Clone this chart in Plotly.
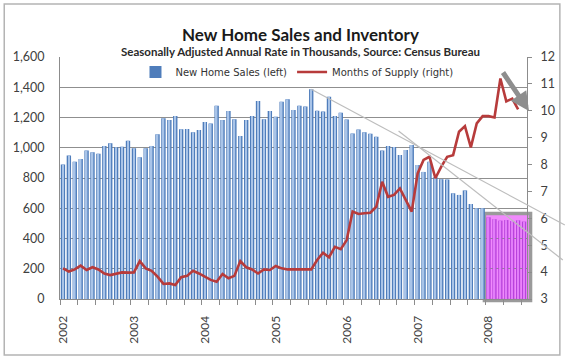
import plotly.graph_objects as go

# ---------------- data ----------------
years = ["2002", "2003", "2004", "2005", "2006", "2007", "2008"]

# New Home Sales, SAAR thousands, Jan 2002 .. Dec 2007
sales = [890, 948, 908, 926, 981, 970, 961, 1012, 1029, 1003, 1007, 1047,
         996, 937, 996, 1012, 1089, 1195, 1183, 1210, 1122, 1124, 1102, 1117,
         1170, 1161, 1278, 1183, 1243, 1188, 1078, 1183, 1210, 1309, 1188, 1243,
         1205, 1304, 1320, 1250, 1278, 1272, 1387, 1245, 1239, 1338, 1210, 1232,
         1186, 1095, 1120, 1102, 1093, 1073, 981, 1012, 1005, 952, 985, 1018,
         886, 840, 908, 805, 792, 790, 699, 688, 718, 628, 600, 600]
# 2008 months (highlighted)
sales_2008 = [540, 528, 518, 522, 515, 520, 512]

# Months of supply (right axis)
supply = [4.14, 4.02, 4.10, 4.24, 4.08, 4.18, 4.10, 3.95, 3.89, 3.95, 3.99, 3.98,
          3.99, 4.41, 4.14, 4.05, 3.83, 3.56, 3.58, 3.52, 3.81, 3.86, 4.05, 3.95,
          3.83, 3.71, 3.64, 3.93, 3.77, 3.86, 4.41, 4.18, 4.10, 3.95, 4.10, 4.08,
          4.23, 4.14, 4.10, 4.10, 4.12, 4.10, 4.10, 4.45, 4.72, 4.55, 4.94, 4.85,
          5.19, 6.25, 6.16, 6.19, 6.21, 6.43, 7.36, 6.80, 6.87, 7.11, 6.68, 6.25,
          7.67, 8.17, 8.29, 7.49, 7.92, 8.29, 8.35, 9.22, 9.43, 8.64, 9.53, 9.80,
          9.80, 9.75, 11.20, 10.35, 10.45, 10.05, None]

n_total = len(sales) + len(sales_2008)
x_blue = list(range(len(sales)))
x_pink = list(range(len(sales), n_total))
x_all = list(range(n_total))
tickvals = [12 * i for i in range(len(years))]

XR = [-0.5, n_total - 0.5]
YR = [0, 1600]
Y2R = [3, 12]


def px_x(v):
    return (v - XR[0]) / (XR[1] - XR[0])


def px_y(v):
    return (v - YR[0]) / (YR[1] - YR[0])


FONT = "Lato, 'Open Sans', sans-serif"
LEGFONT = "'DejaVu Sans', Verdana, sans-serif"

fig = go.Figure()

fig.add_trace(go.Bar(x=x_blue, y=sales, width=0.74, marker_color="#4f7dbb",
                     marker_line_width=0, name="New Home Sales (left)"))
fig.add_trace(go.Bar(x=x_blue, y=sales, width=0.28, marker_color="#a9c4e8",
                     marker_line_width=0, showlegend=False, hoverinfo="skip"))
fig.add_trace(go.Bar(x=x_pink, y=sales_2008, width=0.72, marker_color="#b843dc",
                     marker_line_width=0, showlegend=False))
fig.add_trace(go.Bar(x=x_pink, y=sales_2008, width=0.26, marker_color="#e27ef8",
                     marker_line_width=0, showlegend=False, hoverinfo="skip"))
fig.add_trace(go.Scatter(x=x_all, y=supply, yaxis="y2", mode="lines",
                         line=dict(color="#b73b3b", width=2.6),
                         name="Months of Supply (right)"))

first08 = len(sales)
shapes = [
    # outer chart frame
    dict(type="rect", xref="paper", yref="paper",
         x0=-56 / 469, x1=502 / 469, y0=-56 / 242, y1=295 / 242,
         line=dict(color="#b4b4b4", width=1.5), fillcolor="rgba(0,0,0,0)",
         layer="below"),
    # highlight box for 2008
    dict(type="rect", xref="paper", yref="paper",
         x0=px_x(first08 - 0.7), x1=px_x(n_total + 0.1),
         y0=px_y(-10), y1=px_y(565),
         line=dict(color="#9a9a9a", width=3.5), fillcolor="#f08afc",
         layer="below"),
    # trend lines
    dict(type="line", xref="paper", yref="paper",
         x0=px_x(42), y0=px_y(1387), x1=507 / 469, y1=74 / 242,
         line=dict(color="#bdbdbd", width=1.2)),
    dict(type="line", xref="paper", yref="paper",
         x0=340 / 469, y0=168 / 242, x1=505 / 469, y1=39 / 242,
         line=dict(color="#bdbdbd", width=1.2)),
]

annotations = [
    dict(text="<b>New Home Sales and Inventory</b>", xref="paper", yref="paper",
         x=(302 - 60) / 469, y=(299 - 22) / 242, showarrow=False,
         font=dict(family=FONT, size=17, color="#1a1a1a")),
    dict(text="<b>Seasonally Adjusted Annual Rate in Thousands, Source: Census Bureau</b>",
         xref="paper", yref="paper",
         x=(302 - 60) / 469, y=(299 - 43) / 242, showarrow=False,
         font=dict(family=FONT, size=11.5, color="#2a2a2a")),
    # grey arrow
    dict(text="", xref="paper", yref="paper",
         x=(531 - 60) / 469, y=(299 - 111) / 242,
         ax=-27, ay=-40, showarrow=True, arrowhead=2, arrowsize=0.75,
         arrowwidth=5, arrowcolor="#8e8e8e"),
]

fig.update_layout(
    width=567, height=362,
    margin=dict(l=60, r=38, t=57, b=63),
    paper_bgcolor="white", plot_bgcolor="rgba(0,0,0,0)",
    barmode="overlay",
    shapes=shapes, annotations=annotations,
    legend=dict(orientation="h", x=(298 - 60) / 469, xanchor="center",
                y=(299 - 72) / 242, yanchor="middle",
                bgcolor="rgba(0,0,0,0)", font=dict(family=LEGFONT, size=10, color="#333"),
                itemwidth=30, tracegroupgap=0),
    xaxis=dict(range=XR, tickmode="array", tickvals=tickvals, ticktext=years,
               tickangle=-90, ticks="", showline=True, linecolor="#8c8c8c",
               showgrid=False, zeroline=False,
               tickfont=dict(family=FONT, size=12, color="#404040"),
               ticklabelstandoff=11,
               minor=dict(ticks="outside", tick0=-0.5, dtick=3, ticklen=5,
                          tickcolor="#8c8c8c", showgrid=False)),
    yaxis=dict(range=YR, dtick=200, tickformat=",", showgrid=True,
               gridcolor="#8f8f8f", gridwidth=1, showline=True, linecolor="#8c8c8c",
               zeroline=False, ticks="", ticklabelstandoff=12,
               tickfont=dict(family=FONT, size=12.5, color="#404040")),
    yaxis2=dict(range=Y2R, dtick=1, overlaying="y", side="right", showgrid=False,
                showline=True, linecolor="#8c8c8c", ticks="outside", ticklen=4,
                tickcolor="#8c8c8c", zeroline=False, ticklabelstandoff=6,
                tickfont=dict(family=FONT, size=12.5, color="#404040")),
)

fig.write_html("out.html", config={"displayModeBar": False},
               post_script="document.body.style.margin='0';document.body.style.padding='0';")
